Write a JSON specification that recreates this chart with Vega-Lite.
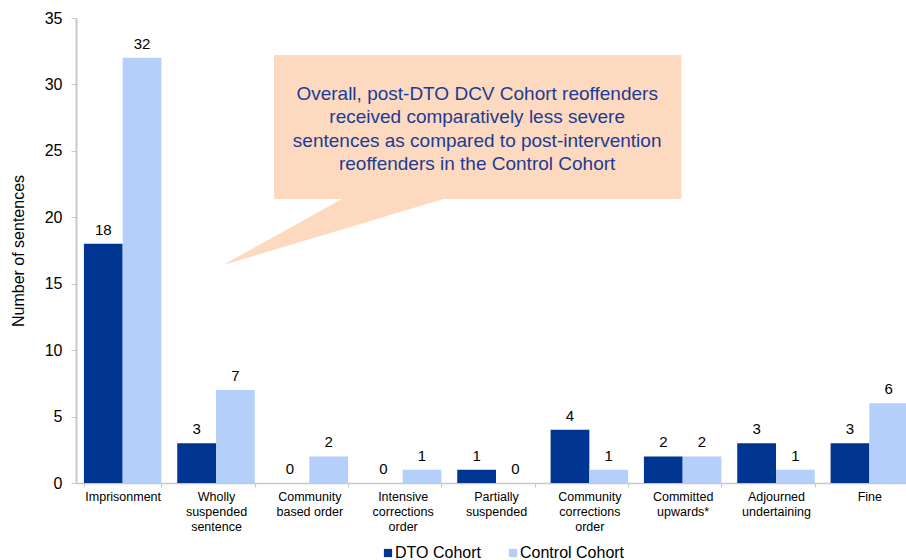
{
  "$schema": "https://vega.github.io/schema/vega-lite/v6.json",
  "autosize": {"type": "none"},
  "width": 840,
  "height": 465,
  "padding": {"left": 76, "top": 18, "right": 0, "bottom": 77},
  "background": "white",
  "config": {
    "font": "Liberation Sans",
    "view": {"stroke": null},
    "axisY": {
      "titleFontSize": 16, "titleFontWeight": "normal", "titleColor": "#000000", "titlePadding": 18,
      "grid": false,
      "labelFontSize": 16, "labelColor": "#000000", "labelPadding": 9,
      "tickSize": 5, "tickColor": "#c8c8c8", "domainColor": "#c8c8c8", "domainWidth": 2
    }
  },
  "datasets": {
    "sentences": [
      {"category": "Imprisonment", "cohort": "DTO Cohort", "count": 18},
      {"category": "Imprisonment", "cohort": "Control Cohort", "count": 32},
      {"category": "Wholly suspended sentence", "cohort": "DTO Cohort", "count": 3},
      {"category": "Wholly suspended sentence", "cohort": "Control Cohort", "count": 7},
      {"category": "Community based order", "cohort": "DTO Cohort", "count": 0},
      {"category": "Community based order", "cohort": "Control Cohort", "count": 2},
      {"category": "Intensive corrections order", "cohort": "DTO Cohort", "count": 0},
      {"category": "Intensive corrections order", "cohort": "Control Cohort", "count": 1},
      {"category": "Partially suspended", "cohort": "DTO Cohort", "count": 1},
      {"category": "Partially suspended", "cohort": "Control Cohort", "count": 0},
      {"category": "Community corrections order", "cohort": "DTO Cohort", "count": 4},
      {"category": "Community corrections order", "cohort": "Control Cohort", "count": 1},
      {"category": "Committed upwards*", "cohort": "DTO Cohort", "count": 2},
      {"category": "Committed upwards*", "cohort": "Control Cohort", "count": 2},
      {"category": "Adjourned undertaining", "cohort": "DTO Cohort", "count": 3},
      {"category": "Adjourned undertaining", "cohort": "Control Cohort", "count": 1},
      {"category": "Fine", "cohort": "DTO Cohort", "count": 3},
      {"category": "Fine", "cohort": "Control Cohort", "count": 6}
    ],
    "callout": [{"x": 2.122, "x2": 6.485, "y": 21.38, "y2": 32.21}],
    "pointer": [
      {"x": 1.576, "y": 16.41, "y2": 16.41},
      {"x": 2.851, "y": 19.08, "y2": 21.38},
      {"x": 3.934, "y": 21.38, "y2": 21.38}
    ],
    "note": [
      {"x": 4.298, "y": 28.83, "text": "Overall, post-DTO DCV Cohort reoffenders\nreceived comparatively less severe\nsentences as compared to post-intervention\nreoffenders in the Control Cohort"}
    ]
  },
  "layer": [
    {
      "data": {"name": "sentences"},
      "encoding": {
        "x": {
          "field": "category", "type": "nominal", "sort": null,
          "scale": {"paddingInner": 0.17, "paddingOuter": 0.085},
          "axis": {
            "title": null, "labelAngle": 0, "labelFontSize": 12.5, "labelColor": "#000000",
            "labelLineHeight": 15, "labelPadding": 3, "labelBaseline": "top",
            "tickBand": "extent", "tickSize": 4, "tickColor": "#c8c8c8",
            "domainColor": "#c8c8c8", "domainWidth": 1.5,
            "labelExpr": "({'Wholly suspended sentence': ['Wholly', 'suspended', 'sentence'], 'Community based order': ['Community', 'based order'], 'Intensive corrections order': ['Intensive', 'corrections', 'order'], 'Partially suspended': ['Partially', 'suspended'], 'Community corrections order': ['Community', 'corrections', 'order'], 'Committed upwards*': ['Committed', 'upwards*'], 'Adjourned undertaining': ['Adjourned', 'undertaining']})[datum.label] || datum.label"
          }
        },
        "xOffset": {"field": "cohort", "type": "nominal", "sort": ["DTO Cohort", "Control Cohort"]},
        "y": {
          "field": "count", "type": "quantitative", "title": "Number of sentences",
          "scale": {"domain": [0, 35]},
          "axis": {"values": [0, 5, 10, 15, 20, 25, 30, 35]}
        }
      },
      "layer": [
        {
          "mark": {"type": "bar"},
          "encoding": {
            "color": {
              "field": "cohort", "type": "nominal",
              "scale": {"domain": ["DTO Cohort", "Control Cohort"], "range": ["#003591", "#b4cffa"]},
              "legend": {
                "title": null, "orient": "none", "legendX": 304, "legendY": 527, "padding": 0,
                "direction": "horizontal", "symbolType": "square",
                "symbolSize": 68, "symbolStrokeWidth": 0, "labelFontSize": 16, "labelColor": "#000000",
                "columnPadding": 24, "labelOffset": -1
              }
            }
          }
        },
        {
          "mark": {"type": "text", "fontSize": 15, "dy": -9, "baseline": "alphabetic", "color": "#000000"},
          "encoding": {"text": {"field": "count", "type": "quantitative"}}
        }
      ]
    },
    {
      "layer": [
        {
          "data": {"name": "callout"},
          "mark": {"type": "rect", "color": "#fdd9c0"},
          "encoding": {
            "x": {"field": "x", "type": "quantitative", "scale": {"domain": [0, 9], "nice": false, "zero": false}, "axis": null},
            "x2": {"field": "x2"},
            "y": {"field": "y", "type": "quantitative", "title": "Number of sentences", "scale": {"domain": [0, 35]}, "axis": {"values": [0, 5, 10, 15, 20, 25, 30, 35]}},
            "y2": {"field": "y2"}
          }
        },
        {
          "data": {"name": "pointer"},
          "mark": {"type": "area", "color": "#fdd9c0", "orient": "vertical", "interpolate": "linear"},
          "encoding": {
            "x": {"field": "x", "type": "quantitative", "scale": {"domain": [0, 9], "nice": false, "zero": false}, "axis": null},
            "y": {"field": "y", "type": "quantitative", "title": "Number of sentences", "scale": {"domain": [0, 35]}, "axis": {"values": [0, 5, 10, 15, 20, 25, 30, 35]}},
            "y2": {"field": "y2"}
          }
        },
        {
          "data": {"name": "note"},
          "mark": {"type": "text", "color": "#1c3c94", "fontSize": 19, "lineBreak": "\n", "lineHeight": 23.5, "align": "center", "baseline": "alphabetic"},
          "encoding": {
            "x": {"field": "x", "type": "quantitative", "scale": {"domain": [0, 9], "nice": false, "zero": false}, "axis": null},
            "y": {"field": "y", "type": "quantitative", "title": "Number of sentences", "scale": {"domain": [0, 35]}, "axis": {"values": [0, 5, 10, 15, 20, 25, 30, 35]}},
            "text": {"field": "text"}
          }
        }
      ]
    }
  ],
  "resolve": {"scale": {"x": "independent"}}
}
